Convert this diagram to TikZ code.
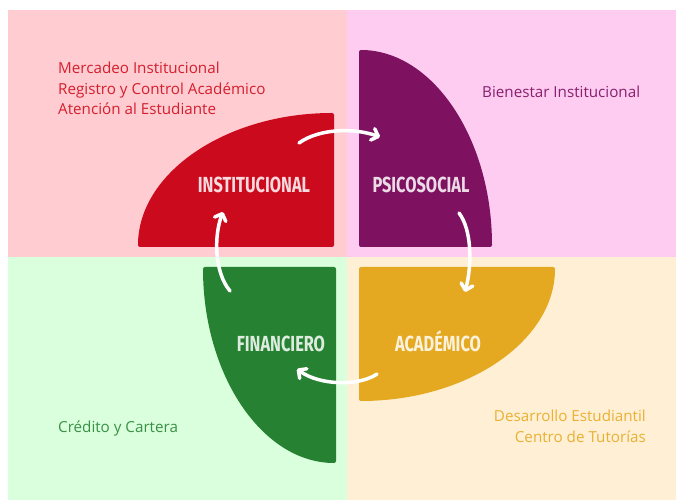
\documentclass[tikz,border=0pt]{standalone}
\usepackage{fontspec}
\setmainfont{Open Sans}
\newfontfamily\labelfont{Fira Sans}
\usetikzlibrary{arrows.meta}

\definecolor{insbg}{HTML}{FFCCD1}
\definecolor{psibg}{HTML}{FFCCF1}
\definecolor{finbg}{HTML}{D9FFDC}
\definecolor{acabg}{HTML}{FFF0D5}
\definecolor{insred}{HTML}{CC0A1E}
\definecolor{psipurple}{HTML}{7E1260}
\definecolor{fingreen}{HTML}{268232}
\definecolor{acagold}{HTML}{E5A921}
\definecolor{instext}{HTML}{D41F2E}
\definecolor{psitext}{HTML}{86206E}
\definecolor{fintext}{HTML}{3A9046}
\definecolor{acatext}{HTML}{E9B033}

\newcommand{\quadlabel}[1]{\scalebox{0.75}[1]{\labelfont\bfseries\fontsize{21.8}{22}\selectfont #1}}

\begin{document}
\begin{tikzpicture}[x=1pt, y=1pt,
  blob/.style={rounded corners=2pt},
  lbl/.style={anchor=base, inner sep=0pt, text=white, text opacity=0.85},
  txt/.style={inner sep=0pt, font=\fontsize{15.2}{15}\selectfont},
  loop/.style={white, line width=3.5pt, line cap=round, -{Straight Barb[length=6pt,width=12pt,round]}}]
\useasboundingbox (0,0) rectangle (676,500);

% backgrounds
\fill[insbg] (8,243) rectangle (347,490);
\fill[psibg] (347,243) rectangle (676,490);
\fill[finbg] (8,0) rectangle (347,243);
\fill[acabg] (347,0) rectangle (676,243);

% quarter shapes
\fill[insred, blob] (334,253) -- (138,253) arc[start angle=180, end angle=90, x radius=196, y radius=134] -- cycle;
\fill[psipurple, blob] (359,253) -- (359,450) arc[start angle=90, end angle=0, x radius=133, y radius=197] -- cycle;
\fill[acagold, blob] (359,233) -- (555,233) arc[start angle=0, end angle=-90, x radius=196, y radius=134] -- cycle;
\fill[fingreen, blob] (336,233) -- (336,37) arc[start angle=-90, end angle=-180, x radius=133, y radius=196] -- cycle;

% labels
\node[lbl] (ins) at (254,307) {\quadlabel{INSTITUCIONAL}};
\node[lbl] (psi) at (421,307) {\quadlabel{PSICOSOCIAL}};
\node[lbl] (fin) at (281,148) {\quadlabel{FINANCIERO}};
\node[lbl] (aca) at (438,148) {\quadlabel{ACADÉMICO}};

% arrows
\coordinate (ins-out) at (299,357);
\coordinate (psi-in) at (380,363);
\coordinate (psi-out) at (459,287);
\coordinate (aca-in) at (465,208);
\coordinate (aca-out) at (377,126);
\coordinate (fin-in) at (297,131);
\coordinate (fin-out) at (230,209);
\coordinate (ins-in) at (223,288);
\draw[loop] (ins-out) .. controls (320,372) and (355,372) .. (psi-in);
\draw[loop] (psi-out) .. controls (472,270) and (472,235) .. (aca-in);
\draw[loop] (aca-out) .. controls (360,114) and (320,114) .. (fin-in);
\draw[loop] (fin-out) .. controls (214,228) and (214,265) .. (ins-in);

% texts
\node[txt, text=instext, anchor=base west] (ins-1) at (58,426) {Mercadeo Institucional};
\node[txt, text=instext, anchor=base west] (ins-2) at (58,405) {Registro y Control Académico};
\node[txt, text=instext, anchor=base west] (ins-3) at (58,385) {Atención al Estudiante};
\node[txt, text=psitext, anchor=base west] (psi-1) at (482,402) {Bienestar Institucional};
\node[txt, text=fintext, anchor=base west] (fin-1) at (58,67) {Crédito y Cartera};
\node[txt, text=acatext, anchor=base east] (aca-1) at (646,78) {Desarrollo Estudiantil};
\node[txt, text=acatext, anchor=base east] (aca-2) at (646,57) {Centro de Tutorías};
\end{tikzpicture}
\end{document}
